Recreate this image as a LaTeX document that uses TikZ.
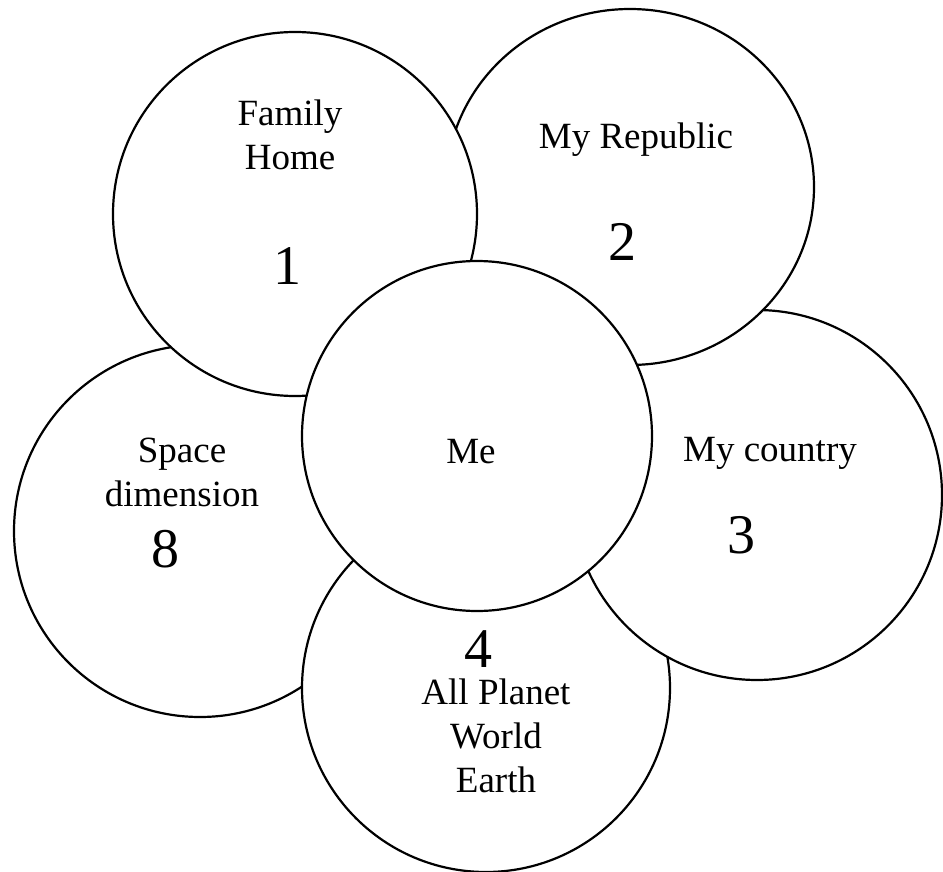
\documentclass[tikz,border=0pt]{standalone}
\usepackage{fontspec}
\setmainfont{Liberation Serif}
\usetikzlibrary{shapes.geometric}

\begin{document}
\begin{tikzpicture}[
  x=1pt, y=-1pt,
  ring/.style={circle, draw=black, line width=2.2pt, fill=white,
               inner sep=0pt, minimum size=#1},
  oval/.style={ellipse, draw=black, line width=2.2pt, fill=white,
               inner sep=0pt},
  lbl/.style={font=\fontsize{37}{44}\selectfont, align=center, inner sep=0pt},
  num/.style={font=\fontsize{56}{60}\selectfont, inner sep=0pt}
]
\useasboundingbox (0,0) rectangle (943,872);

% circles, back to front
\node[ring=372pt] (space)   at (200,531) {};
\node[ring=368pt] (planet)  at (486,688) {};
\node[ring=370pt] (country) at (757,495) {};
\node[oval, minimum width=368pt, minimum height=356pt] (republic) at (630,187) {};
\node[ring=364pt] (home)    at (295,214) {};
\node[ring=350pt] (me)      at (477,436) {};

% labels
\node[lbl] (homeT) at (290,135) {Family\\Home};
\node[num] (homeN) at (287,266) {1};
\node[lbl] (republicT) at (636,140) {My Republic};
\node[num] (republicN) at (622,242) {2};
\node[lbl] (meT) at (471,452) {Me};
\node[lbl] (spaceT) at (182,472) {Space\\dimension};
\node[num] (spaceN) at (165,549) {8};
\node[lbl] (countryT) at (770,453) {My country};
\node[num] (countryN) at (741,535) {3};
\node[num] (planetN) at (478,649) {4};
\node[lbl] (planetT) at (496,736) {All Planet\\World\\Earth};
\end{tikzpicture}
\end{document}
